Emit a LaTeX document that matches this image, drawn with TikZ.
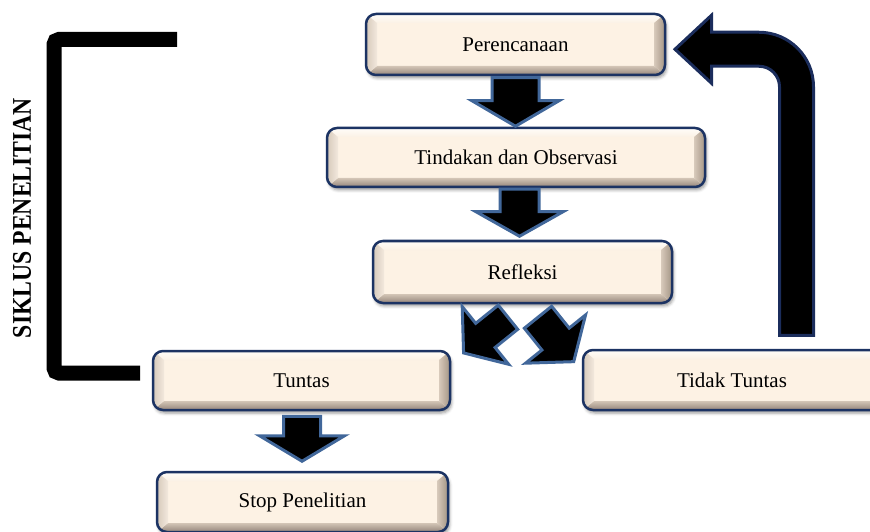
\documentclass[tikz,border=0pt]{standalone}
\usepackage{fontspec}
\setmainfont{Liberation Serif}
\usetikzlibrary{calc,shadows.blur}
\definecolor{boxline}{HTML}{1C3363}
\definecolor{arrline}{HTML}{41679A}
\definecolor{retline}{HTML}{1B2D5C}
\definecolor{bvtopA}{HTML}{FFFDF9}
\definecolor{bvtopB}{HTML}{FBF1E5}
\definecolor{bvbotA}{HTML}{D3C5B6}
\definecolor{bvbotB}{HTML}{94857A}
\definecolor{bvleftA}{HTML}{D6C9BB}
\definecolor{bvleftB}{HTML}{F3E9DD}
\definecolor{bvrightA}{HTML}{D8CABB}
\definecolor{bvrightB}{HTML}{A39484}
\definecolor{bvmid}{HTML}{FDF2E4}
\newcommand{\myblockarrow}[7]{%
  \draw[#1, shift={#2}, rotate=#3] (0,-#5) -- ({#4-#7},-#5) -- ({#4-#7},-#6) -- (#4,0)
    -- ({#4-#7},#6) -- ({#4-#7},#5) -- (0,#5) -- cycle;}
\tikzset{
  stepbox/.style={rounded corners=10pt, draw=boxline, line width=2.5pt, fill=bvmid,
    inner sep=0pt, font=\fontsize{21}{25}\selectfont,
    blur shadow={shadow xshift=1.5pt, shadow yshift=-3pt, shadow blur radius=3pt, shadow opacity=40},
    path picture={
      \coordinate (bbsw) at (path picture bounding box.south west);
      \coordinate (bbne) at (path picture bounding box.north east);
      \coordinate (bbnw) at (bbsw |- bbne);
      \coordinate (bbse) at (bbne |- bbsw);
      \coordinate (isw) at ($(bbsw)+(11,9)$);
      \coordinate (ine) at ($(bbne)+(-11,-9)$);
      \coordinate (inw) at (isw |- ine);
      \coordinate (ise) at (ine |- isw);
      \shade[sharp corners, top color=bvtopA, bottom color=bvtopB] (bbnw) -- (bbne) -- (ine) -- (inw) -- cycle;
      \shade[sharp corners, top color=bvbotA, bottom color=bvbotB] (bbsw) -- (bbse) -- (ise) -- (isw) -- cycle;
      \shade[sharp corners, left color=bvleftA, right color=bvleftB] (bbsw) -- (bbnw) -- (inw) -- (isw) -- cycle;
      \shade[sharp corners, left color=bvrightA, right color=bvrightB] (bbse) -- (bbne) -- (ine) -- (ise) -- cycle;
    }},
  blkarr/.style={fill=black, draw=arrline, line width=3pt, line join=miter},
  retarr/.style={fill=black, draw=retline, line width=3pt, line join=miter},
  bracket/.style={line width=15pt, rounded corners=5pt, black}
}
\begin{document}
\begin{tikzpicture}[x=1pt, y=1pt]
\useasboundingbox (0,0) rectangle (870,531);

\node[stepbox, minimum width=299pt, minimum height=61pt] (P) at (515.5,486.5) {Perencanaan};
\node[stepbox, minimum width=378pt, minimum height=59pt] (T) at (516,373.5) {Tindakan dan Observasi};
\node[stepbox, minimum width=299pt, minimum height=62pt] (R) at (522.5,259) {Refleksi};
\node[stepbox, minimum width=297pt, minimum height=59pt] (U) at (301.5,150.5) {Tuntas};
\node[stepbox, minimum width=298pt, minimum height=60pt] (D) at (732,151) {Tidak Tuntas};
\node[stepbox, minimum width=291pt, minimum height=60pt] (S) at (302.5,29) {Stop Penelitian};

% straight block arrows
\myblockarrow{blkarr}{($(P.south)+(0,-1.5)$)}{-90}{48.5}{23.5}{43.5}{25.5}
\myblockarrow{blkarr}{($(T.south)+(3.5,-1)$)}{-90}{47}{19.5}{43.5}{24.5}
\myblockarrow{blkarr}{($(U.south)+(0.5,-5)$)}{-90}{45}{18.5}{42.5}{25.5}

% diagonal block arrows from Refleksi
\myblockarrow{blkarr}{($(R.south)+(-14.5,-13)$)}{218.8}{57}{15.5}{37}{28}
\myblockarrow{blkarr}{($(R.south)+(15.5,-13)$)}{-51.2}{57}{17.5}{38.5}{29}

% return arrow from Tidak Tuntas to Perencanaan
\coordinate (rb) at ($(D.north)+(64.5,13.5)$);
\draw[retarr, shift={(rb)}] (-17,0) -- (-17,248.5) arc[start angle=0, end angle=90, radius=20.5]
  -- (-85,269) -- (-85,252) -- (-121.5,286) -- (-85,320) -- (-85,303) -- (-37.5,303)
  arc[start angle=90, end angle=0, radius=54.5] -- (17,0) -- cycle;

% bracket
\coordinate (b1) at (177,491.5);
\coordinate (b2) at (54,491.5);
\coordinate (b3) at (54,158);
\coordinate (b4) at (140,158);
\draw[bracket] (b1) -- (b2) -- (b3) -- (b4);

\node[rotate=90, font=\bfseries\fontsize{27}{30}\selectfont, inner sep=0pt] (lbl) at (22,313)
  {\scalebox{0.877}[1]{SIKLUS PENELITIAN}};
\end{tikzpicture}
\end{document}
